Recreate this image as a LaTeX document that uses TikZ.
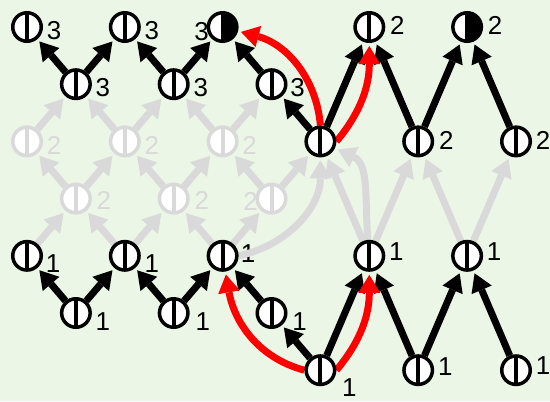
\documentclass[tikz,border=0pt]{standalone}
\usepackage{fontspec}
\setmainfont{Liberation Sans}
\usetikzlibrary{arrows.meta}
\definecolor{bgc}{RGB}{235,246,231}
\definecolor{gryc}{RGB}{217,217,217}
\definecolor{redc}{RGB}{255,0,0}
\pgfdeclarelayer{back}
\pgfdeclarelayer{edges}
\pgfsetlayers{back,edges,main}
\begin{document}
\begin{tikzpicture}[x=1bp,y=1bp,
  pn/.style={circle,draw=black,line width=3.5bp,fill=white,minimum size=28.5bp,inner sep=0pt,
    path picture={\draw[line width=4bp,black] (path picture bounding box.north)--(path picture bounding box.south);}},
  ph/.style={circle,draw=black,line width=3.5bp,fill=white,minimum size=28.5bp,inner sep=0pt,
    path picture={\fill[black] (path picture bounding box.north) rectangle (path picture bounding box.south east);
      \draw[line width=4bp,black] (path picture bounding box.north)--(path picture bounding box.south);}},
  pg/.style={circle,draw=gryc,line width=3.5bp,fill=white,minimum size=28.5bp,inner sep=0pt,
    path picture={\draw[line width=4bp,gryc] (path picture bounding box.north)--(path picture bounding box.south);}},
  lab/.style={inner sep=0pt,font=\fontsize{26}{26}\selectfont},
  labg/.style={lab,text=gryc},
  ed/.style={line width=7bp,-{Triangle[length=18bp,width=22bp,line width=0pt]},shorten >=3bp},
  blk/.style={ed,draw=black},
  gry/.style={ed,draw=gryc},
  rd/.style={ed,draw=redc}]
\useasboundingbox (0,0) rectangle (550,-401);
\begin{pgfonlayer}{back}
\fill[bgc] (0,0) rectangle (550,-401);
\end{pgfonlayer}
% nodes
\node[pn] (n00) at (27,-27) {};
\node[pn] (n20) at (124.8,-27) {};
\node[ph] (n40) at (222.6,-27) {};
\node[pn] (n70) at (369.3,-27) {};
\node[ph] (n90) at (467.1,-27) {};
\node[pn] (n11) at (75.9,-84.2) {};
\node[pn] (n31) at (173.7,-84.2) {};
\node[pn] (n51) at (271.5,-84.2) {};
\node[pg] (g02) at (27,-141.4) {};
\node[pg] (g22) at (124.8,-141.4) {};
\node[pg] (g42) at (222.6,-141.4) {};
\node[pn] (n62) at (320.4,-141.4) {};
\node[pn] (n82) at (418.2,-141.4) {};
\node[pn] (nA2) at (516,-141.4) {};
\node[pg] (g13) at (75.9,-198.6) {};
\node[pg] (g33) at (173.7,-198.6) {};
\node[pg] (g53) at (271.5,-198.6) {};
\node[pn] (n04) at (27,-255.8) {};
\node[pn] (n24) at (124.8,-255.8) {};
\node[pn] (n44) at (222.6,-255.8) {};
\node[pn] (n74) at (369.3,-255.8) {};
\node[pn] (n94) at (467.1,-255.8) {};
\node[pn] (n15) at (75.9,-313) {};
\node[pn] (n35) at (173.7,-313) {};
\node[pn] (n55) at (271.5,-313) {};
\node[pn] (n66) at (320.4,-370.2) {};
\node[pn] (n86) at (418.2,-370.2) {};
\node[pn] (nA6) at (516,-370.2) {};
% labels
\begin{pgfonlayer}{back}
\node[lab] (l00) at ([shift={(27,-4)}]n00) {3};
\node[lab] (l20) at ([shift={(27,-4)}]n20) {3};
\node[lab] (l40) at ([shift={(-21,-5)}]n40) {3};
\node[lab] (l70) at ([shift={(28,2)}]n70) {2};
\node[lab] (l90) at ([shift={(28,2)}]n90) {2};
\node[lab] (l11) at ([shift={(27,-3)}]n11) {3};
\node[lab] (l31) at ([shift={(27,-3)}]n31) {3};
\node[lab] (l51) at ([shift={(26,-3)}]n51) {3};
\node[labg] (l02) at ([shift={(27,-4)}]g02) {2};
\node[labg] (l22) at ([shift={(27,-4)}]g22) {2};
\node[labg] (l42) at ([shift={(27,-4)}]g42) {2};
\node[lab] (l82) at ([shift={(28,1)}]n82) {2};
\node[lab] (lA2) at ([shift={(27,1)}]nA2) {2};
\node[labg] (l13) at ([shift={(28,-2)}]g13) {2};
\node[labg] (l33) at ([shift={(28,-2)}]g33) {2};
\node[labg] (l53) at ([shift={(-21,-3)}]g53) {2};
\node[lab] (l04) at ([shift={(26,-8)}]n04) {1};
\node[lab] (l24) at ([shift={(27,-8)}]n24) {1};
\node[lab] (l44) at ([shift={(25.5,2)}]n44) {1};
\node[lab] (l74) at ([shift={(27,4)}]n74) {1};
\node[lab] (l94) at ([shift={(27,4)}]n94) {1};
\node[lab] (l15) at ([shift={(27,-9)}]n15) {1};
\node[lab] (l35) at ([shift={(29,-9)}]n35) {1};
\node[lab] (l55) at ([shift={(28,-9)}]n55) {1};
\node[lab] (l66) at ([shift={(29,-17)}]n66) {1};
\node[lab] (l86) at ([shift={(27,4)}]n86) {1};
\node[lab] (lA6) at ([shift={(27,5)}]nA6) {1};
\end{pgfonlayer}
% edges
\begin{pgfonlayer}{edges}
% gray lattice
\draw[gry] (n04) -- (g13);
\draw[gry] (n24) -- (g13);
\draw[gry] (n24) -- (g33);
\draw[gry] (n44) -- (g33);
\draw[gry] (n44) -- (g53);
\draw[gry] (g13) -- (g02);
\draw[gry] (g13) -- (g22);
\draw[gry] (g33) -- (g22);
\draw[gry] (g33) -- (g42);
\draw[gry] (g53) -- (g42);
\draw[gry] (g02) -- (n11);
\draw[gry] (g22) -- (n11);
\draw[gry] (g22) -- (n31);
\draw[gry] (g42) -- (n31);
\draw[gry] (g42) -- (n51);
\draw[gry] (g53) -- (n62);
\draw[gry] (n44.east) to[out=12,in=-90] (n62);
\draw[gry] (n74) -- (n62);
\draw[gry] (n74) to[out=95,in=-25] (n62);
\draw[gry] (n74) -- (n82);
\draw[gry] (n94) -- (n82);
\draw[gry] (n94) -- (nA2);
% black upper
\draw[blk] (n11) -- (n00);
\draw[blk] (n11) -- (n20);
\draw[blk] (n31) -- (n20);
\draw[blk] (n31) -- (n40);
\draw[blk] (n51) -- (n40);
\draw[blk] (n62) -- (n51);
\draw[blk] (n62) -- (n70);
\draw[blk] (n82) -- (n70);
\draw[blk] (n82) -- (n90);
\draw[blk] (nA2) -- (n90);
% black lower
\draw[blk] (n15) -- (n04);
\draw[blk] (n15) -- (n24);
\draw[blk] (n35) -- (n24);
\draw[blk] (n35) -- (n44);
\draw[blk] (n55) -- (n44);
\draw[blk] (n66) -- (n55);
\draw[blk] (n66) -- (n74);
\draw[blk] (n86) -- (n74);
\draw[blk] (n86) -- (n94);
\draw[blk] (nA6) -- (n94);
% red
\draw[rd] (n62.north) to[out=95,in=-15] (n40);
\draw[rd] (n62.east) to[out=50,in=-90] (n70);
\draw[rd] (n66.west) to[out=165,in=-80] (n44);
\draw[rd] (n66.east) to[out=50,in=-90] (n74);
\end{pgfonlayer}
\end{tikzpicture}
\end{document}
